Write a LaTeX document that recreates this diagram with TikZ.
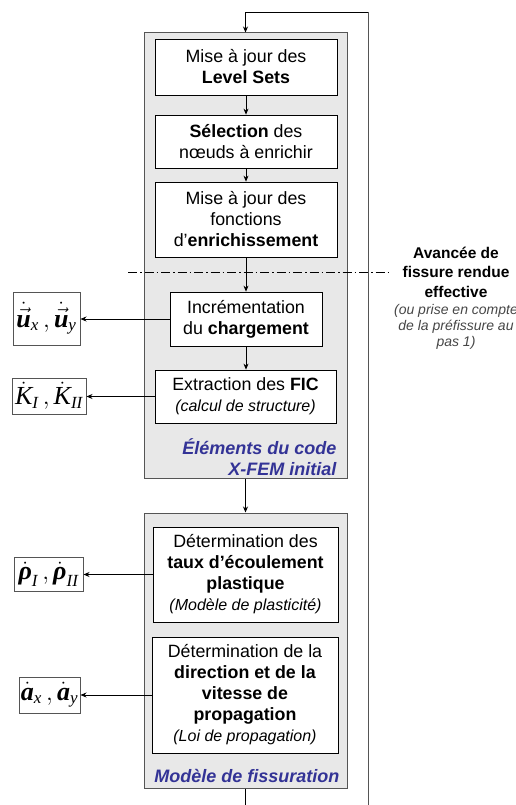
\documentclass[tikz,border=0pt]{standalone}
\usepackage{amsmath}
\usepackage{fontspec}
\setmainfont{Liberation Sans}
\newfontfamily\tms{Liberation Serif}
\usetikzlibrary{arrows.meta}
\definecolor{grayfill}{RGB}{232,232,232}
\definecolor{grayline}{RGB}{85,85,85}
\definecolor{labelblue}{RGB}{51,51,150}
\definecolor{notegray}{RGB}{70,70,70}
\newcommand{\mytb}[1]{\text{\tms\bfseries\itshape #1}}
\newcommand{\myti}[1]{\text{\tms\itshape #1}}
\newcommand{\mysub}[1]{_{\text{\fontsize{17}{17}\selectfont\tms\itshape #1}}}
\newcommand{\mycomma}{\,{,}\,}
\newcommand{\smit}{\fontsize{16}{19}\selectfont\itshape}
\begin{document}
\begin{tikzpicture}[x=1pt,y=-1pt,
  grp/.style={draw=grayline, fill=grayfill, line width=1pt, inner sep=0pt},
  stepbox/.style={draw=black, fill=white, line width=0.8pt, align=center, inner sep=0pt,
    font=\fontsize{17.8}{21}\selectfont},
  outbox/.style={draw=grayline, fill=white, line width=1pt, inner sep=0pt,
    font=\fontsize{26}{30}\selectfont},
  arr/.style={-{Stealth[length=6pt,width=5pt]}, line width=0.7pt},
  grplabel/.style={anchor=east, align=right, text=labelblue,
    font=\fontsize{18}{21}\selectfont\bfseries\itshape}
]
\useasboundingbox (0,0) rectangle (516,805);

% groups
\node[grp, minimum width=203pt, minimum height=445pt] (g1) at (245.5,255.5) {};
\node[grp, minimum width=203pt, minimum height=275pt] (g2) at (245.5,650.5) {};

% steps
\node[stepbox, minimum width=182pt, minimum height=56pt] (A) at (246,67)
  {Mise à jour des\\\textbf{Level Sets}};
\node[stepbox, minimum width=182pt, minimum height=53pt] (B) at (246,141.5)
  {\textbf{Sélection} des\\nœuds à enrichir};
\node[stepbox, minimum width=182pt, minimum height=75pt] (C) at (246,219.5)
  {Mise à jour des\\fonctions\\d’\textbf{enrichissement}};
\node[stepbox, minimum width=152pt, minimum height=54pt] (D) at (246,319)
  {Incrémentation\\du \textbf{chargement}};
\node[stepbox, minimum width=181pt, minimum height=53pt] (E) at (245.5,396.5)
  {Extraction des \textbf{FIC}\\{\smit (calcul de structure)}};
\node[stepbox, minimum width=185pt, minimum height=95pt] (F) at (245.5,574.5)
  {Détermination des\\\textbf{taux d’écoulement}\\\textbf{plastique}\\{\smit (Modèle de plasticité)}};
\node[stepbox, minimum width=186pt, minimum height=116pt] (G) at (245,695)
  {Détermination de la\\\textbf{direction et de la}\\\textbf{vitesse de}\\\textbf{propagation}\\{\smit (Loi de propagation)}};

% group labels
\node[grplabel] (l1) at (340,457) {Éléments du code\\X-FEM initial};
\node[grplabel] (l2) at (343,776) {Modèle de fissuration};

% outputs
\node[outbox, minimum width=67pt, minimum height=53pt] (u) at (46.5,318.5)
  {$\dot{\vec{\mytb{u}}}\mysub{x}\mycomma\dot{\vec{\mytb{u}}}\mysub{y}$};
\node[outbox, minimum width=74pt, minimum height=36pt] (K) at (49,396)
  {$\dot{\myti{K}}\mysub{I}\mycomma\dot{\myti{K}}\mysub{II}$};
\node[outbox, minimum width=69pt, minimum height=34pt] (rho) at (48.5,574)
  {$\dot{\mytb{ρ}}\mysub{I}\mycomma\dot{\mytb{ρ}}\mysub{II}$};
\node[outbox, minimum width=61pt, minimum height=36pt] (a) at (49.5,695)
  {$\dot{\mytb{a}}\mysub{x}\mycomma\dot{\mytb{a}}\mysub{y}$};

% loop
\coordinate (loopB) at (368,806);
\coordinate (loopT) at (368,12);
\coordinate (outB) at (245.5,806);
\draw[arr, draw=black] (loopB) -- (loopT) -| (g1.north);
\draw[line width=1pt, grayline] (loopB) -- (loopT);

% flow arrows
\draw[arr] (A) -- (B);
\draw[arr] (B) -- (C);
\draw[arr] (C) -- (D);
\draw[arr] (D.south) -- (D.south |- E.north);
\draw[arr] (g1.south) -- (g2.north);
\draw[line width=0.7pt] (g2.south) -- (outB);

% output arrows
\draw[arr] (D.west) -- (D.west -| u.east);
\draw[arr] (E.west) -- (E.west -| K.east);
\draw[arr] (F.west) -- (F.west -| rho.east);
\draw[arr] (G.west) -- (G.west -| a.east);

% dash-dot line
\coordinate (dl) at (128,272);
\coordinate (dr) at (392,272);
\draw[line width=0.7pt, dash pattern=on 9pt off 3pt on 1.5pt off 3pt] (dl) -- (dr);

% note
\node[align=center, font=\fontsize{15.5}{19.5}\selectfont\bfseries] (n1) at (456,272)
  {Avancée de\\fissure rendue\\effective};
\node[align=center, text=notegray, font=\fontsize{14}{16}\selectfont\itshape] (n2) at (456,327)
  {(ou prise en compte\\de la préfissure au\\pas 1)};
\end{tikzpicture}
\end{document}
